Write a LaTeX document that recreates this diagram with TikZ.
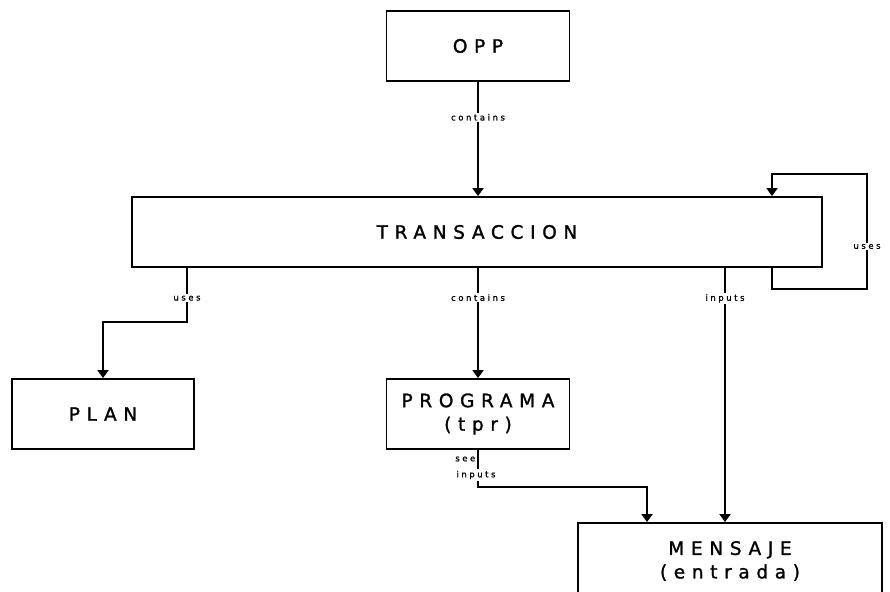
\documentclass[tikz,border=0pt]{standalone}
\usepackage{fontspec}
\usetikzlibrary{arrows.meta}
\newfontfamily\boxfont[LetterSpace=36,FakeBold=1.3]{DejaVu Sans}
\newfontfamily\labfont[LetterSpace=30,FakeBold=1]{DejaVu Sans}
\begin{document}
\begin{tikzpicture}[x=1pt,y=-1pt,
  entity/.style={draw, line width=1.8pt, inner sep=0pt, align=center,
    font=\boxfont\fontsize{18.5}{23.5}\selectfont},
  link/.style={line width=1.8pt, -{Triangle[width=11pt,length=8pt]}},
  tag/.style={fill=white, inner sep=1.5pt, font=\labfont\fontsize{8.5}{10}\selectfont}]
  \useasboundingbox[fill=white] (0,0) rectangle (890,591);

  % entities
  \node[entity, minimum width=183pt, minimum height=70pt] (opp) at (478,46) {OPP};
  \node[entity, minimum width=690pt, minimum height=70pt] (trans) at (477,232) {TRANSACCION};
  \node[entity, minimum width=182pt, minimum height=70pt] (plan) at (103,414) {PLAN};
  \node[entity, minimum width=183pt, minimum height=70pt] (prog) at (478,414) {PROGRAMA\\(tpr)};
  \node[entity, minimum width=304pt, minimum height=76pt] (mens) at (730,561) {MENSAJE\\(entrada)};

  % routing points
  \coordinate (loopbl) at (772,289);
  \coordinate (loopbr) at (867,289);
  \coordinate (looptr) at (867,174);
  \coordinate (looptl) at (772,174);
  \coordinate (usesx) at (187,322);
  \coordinate (planx) at (103,322);
  \coordinate (inx) at (725,300);
  \coordinate (seeb) at (478,487);
  \coordinate (seer) at (647,487);

  % OPP contains TRANSACCION
  \draw[link] (opp.south) -- node[tag, pos=0.31] {contains} (trans.north -| opp.south);

  % self relation of TRANSACCION
  \draw[link] (trans.south -| loopbl) -- (loopbl) -- (loopbr)
    -- node[tag, pos=0.37] {uses} (looptr) -- (looptl) -- (trans.north -| looptl);

  % TRANSACCION uses PLAN
  \draw[link] (trans.south -| usesx) -- node[tag, pos=0.56] {uses} (usesx)
    -- (planx) -- (plan.north);

  % TRANSACCION contains PROGRAMA
  \draw[link] (trans.south -| prog.north) -- node[tag, pos=0.27] {contains} (prog.north);

  % TRANSACCION inputs MENSAJE
  \draw[link] (trans.south -| inx) -- node[tag, pos=0.12] {inputs} (mens.north -| inx);

  % PROGRAMA see inputs MENSAJE
  \draw[link] (prog.south) -- (seeb) -- (seer) -- (mens.north -| seer);
  \node[tag, anchor=east] (seetag) at (477,459) {see};
  \node[tag] (intag) at (476,475) {inputs};
\end{tikzpicture}
\end{document}
